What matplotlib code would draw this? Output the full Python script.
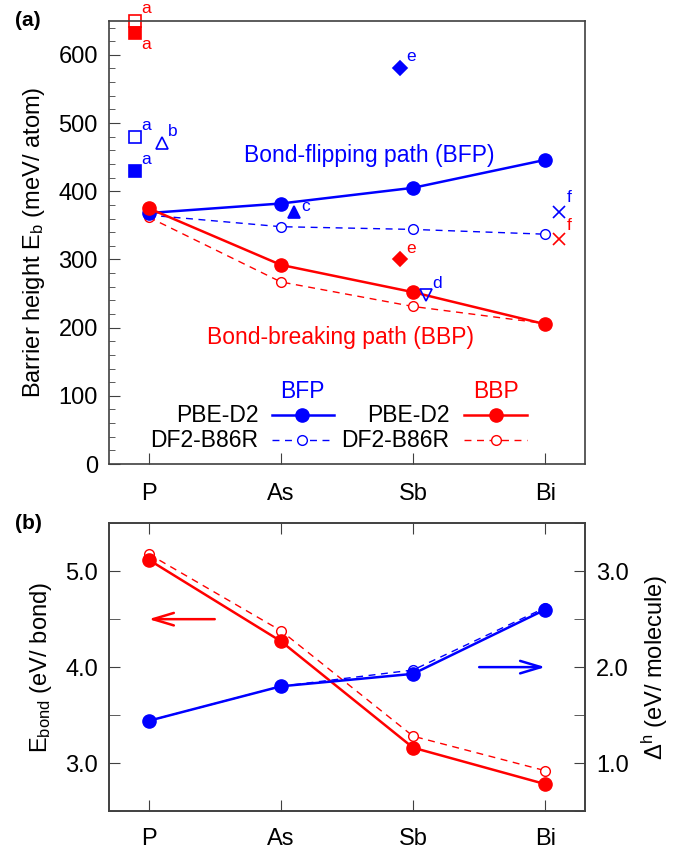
import numpy as np
import matplotlib.pyplot as plt
from matplotlib.ticker import MultipleLocator

plt.rcParams['font.family'] = ['Liberation Sans', 'DejaVu Sans']
plt.rcParams['mathtext.fontset'] = 'custom'
plt.rcParams['mathtext.rm'] = 'Liberation Sans'
plt.rcParams['mathtext.it'] = 'Liberation Sans:italic'

BLUE = '#0000ff'
RED = '#ff0000'
SPINE = '#404040'

elements = ['P', 'As', 'Sb', 'Bi']
xpos = np.arange(len(elements))

# (a) barrier heights, meV/atom
bfp_pbe = [368, 382, 405, 446]
bfp_df2 = [365, 348, 344, 337]
bbp_pbe = [375, 292, 252, 205]
bbp_df2 = [362, 267, 231, 206]

# literature values: (x, y, marker, filled, color, label, label offset in points)
refs = [
    (-0.1, 650, 's', False, RED, 'a', (8, 9)),
    (-0.1, 632, 's', True, RED, 'a', (8, -8)),
    (-0.1, 480, 's', False, BLUE, 'a', (8, 8)),
    (-0.1, 430, 's', True, BLUE, 'a', (8, 8)),
    (0.1, 471, '^', False, BLUE, 'b', (8, 8)),
    (1.1, 370, '^', True, BLUE, 'c', (8, 4)),
    (1.9, 581, 'D', True, BLUE, 'e', (8, 8)),
    (1.9, 300, 'D', True, RED, 'e', (8, 8)),
    (2.1, 248, 'v', False, BLUE, 'd', (8, 8)),
    (3.1, 370, 'x', True, BLUE, 'f', (8, 10)),
    (3.1, 330, 'x', True, RED, 'f', (8, 10)),
]

# (b) bond energy (left axis) and Delta^h (right axis)
ebond_pbe = [5.12, 4.27, 3.16, 2.78]
ebond_df2 = [5.18, 4.38, 3.28, 2.92]
dh_pbe = [1.44, 1.80, 1.93, 2.60]
dh_df2 = [1.44, 1.80, 1.97, 2.62]

TXT = 16.5
TICK = 17

fig = plt.figure(figsize=(6.79, 8.5), dpi=100)
ax = fig.add_axes([0.1605, 0.4541, 0.701, 0.5215])
bx = fig.add_axes([0.1605, 0.0459, 0.701, 0.3385])

solid = dict(lw=1.8, marker='o', ms=9.5)
dashed = dict(lw=1.0, ls=(0, (5, 4)), marker='o', ms=7, mfc='white', mew=1.0)

# ---- panel (a)
ax.plot(xpos, bfp_df2, color=BLUE, **dashed)
ax.plot(xpos, bbp_df2, color=RED, **dashed)
ax.plot(xpos, bfp_pbe, color=BLUE, **solid)
ax.plot(xpos, bbp_pbe, color=RED, **solid)

for x, y, m, filled, c, lab, off in refs:
    ms = 7 if m == 'D' else 8
    if m == 'x':
        ax.plot(x, y, m, color=c, ms=8, mew=1.2, clip_on=False)
    else:
        ax.plot(x, y, m, color=c, ms=ms, mfc=c if filled else 'none',
                mew=1.2, clip_on=False)
    ax.annotate(lab, (x, y), xytext=off, textcoords='offset points',
                color=c, fontsize=12.5, ha='center', va='center')

ax.text(0.546, 0.697, 'Bond-flipping path (BFP)', transform=ax.transAxes,
        color=BLUE, fontsize=TXT, ha='center', va='center')
ax.text(0.486, 0.286, 'Bond-breaking path (BBP)', transform=ax.transAxes,
        color=RED, fontsize=TXT, ha='center', va='center')

# legend block drawn by hand
ax.text(0.407, 0.163, 'BFP', transform=ax.transAxes, color=BLUE,
        fontsize=TXT, ha='center', va='center')
ax.text(0.813, 0.163, 'BBP', transform=ax.transAxes, color=RED,
        fontsize=TXT, ha='center', va='center')
for tx, x0, x1, xm, c in [(0.3137, 0.3424, 0.4727, 0.4061, BLUE),
                          (0.715, 0.7458, 0.8775, 0.8141, RED)]:
    ax.text(tx, 0.1105, 'PBE-D2', transform=ax.transAxes, fontsize=TXT,
            ha='right', va='center')
    ax.text(tx, 0.054, 'DF2-B86R', transform=ax.transAxes, fontsize=TXT,
            ha='right', va='center')
    ax.plot([x0, x1], [0.1105, 0.1105], color=c, lw=1.8, transform=ax.transAxes)
    ax.plot([xm], [0.1105], 'o', color=c, ms=9.5, transform=ax.transAxes)
    ax.plot([x0, x1], [0.054, 0.054], color=c, lw=1.0, ls=(0, (5, 4)),
            transform=ax.transAxes)
    ax.plot([xm], [0.054], 'o', color=c, ms=7, mfc='white', mew=1.0,
            transform=ax.transAxes)

ax.set_xlim(-0.3, 3.3)
ax.set_ylim(0, 650)
ax.set_xticks(xpos)
ax.set_xticklabels(elements)
ax.yaxis.set_major_locator(MultipleLocator(100))
ax.yaxis.set_minor_locator(MultipleLocator(20))
ax.tick_params(axis='both', which='both', direction='in', top=False,
               right=False, labelsize=TICK, color=SPINE, pad=8)
ax.tick_params(axis='x', pad=14)
ax.tick_params(which='major', length=8)
ax.tick_params(which='minor', length=4)
ax.set_ylabel(r'Barrier height E$_{\rm b}$ (meV/ atom)', fontsize=TICK, labelpad=8)
ax.text(-0.197, 1.0, '(a)', transform=ax.transAxes, fontsize=15,
        fontweight='bold', ha='left', va='center')

# ---- panel (b)
bx2 = bx.twinx()
bx.plot(xpos, ebond_df2, color=RED, **dashed)
bx.plot(xpos, ebond_pbe, color=RED, **solid)
bx2.plot(xpos, dh_df2, color=BLUE, **dashed)
bx2.plot(xpos, dh_pbe, color=BLUE, **solid)

arrow = '->,head_length=1.5,head_width=0.45'
bx.annotate('', xy=(0.0, 4.5), xytext=(0.5, 4.5),
            arrowprops=dict(arrowstyle=arrow, color=RED, lw=1.8,
                            shrinkA=0, shrinkB=0))
bx2.annotate('', xy=(3.0, 2.0), xytext=(2.5, 2.0),
             arrowprops=dict(arrowstyle=arrow, color=BLUE, lw=1.8,
                             shrinkA=0, shrinkB=0))

bx.set_xlim(-0.3, 3.3)
bx.set_ylim(2.5, 5.5)
bx2.set_ylim(0.5, 3.5)
bx.set_xticks(xpos)
bx.set_xticklabels(elements)
bx.set_yticks([3.0, 4.0, 5.0])
bx.set_yticklabels(['3.0', '4.0', '5.0'])
bx.yaxis.set_minor_locator(MultipleLocator(0.5))
bx2.set_yticks([1.0, 2.0, 3.0])
bx2.set_yticklabels(['1.0', '2.0', '3.0'])
bx2.yaxis.set_minor_locator(MultipleLocator(0.5))
bx.tick_params(axis='both', which='both', direction='in', top=True,
               labelsize=TICK, color=SPINE, pad=8)
bx.tick_params(axis='x', pad=12)
bx.tick_params(which='major', length=8)
bx.tick_params(which='minor', length=8)
bx2.tick_params(axis='y', which='both', direction='in', labelsize=TICK,
                color=SPINE, length=8, pad=8)
bx.set_ylabel(r'E$_{\rm bond}$ (eV/ bond)', fontsize=TICK, labelpad=8)
bx2.set_ylabel(r'$\Delta^{\rm h}$ (eV/ molecule)', fontsize=TICK, labelpad=8)
bx.text(-0.197, 1.0, '(b)', transform=bx.transAxes, fontsize=15,
        fontweight='bold', ha='left', va='center')

for a in (ax, bx, bx2):
    for s in a.spines.values():
        s.set_color(SPINE)
        s.set_linewidth(1.2)

fig.savefig('out.png', dpi=100)
